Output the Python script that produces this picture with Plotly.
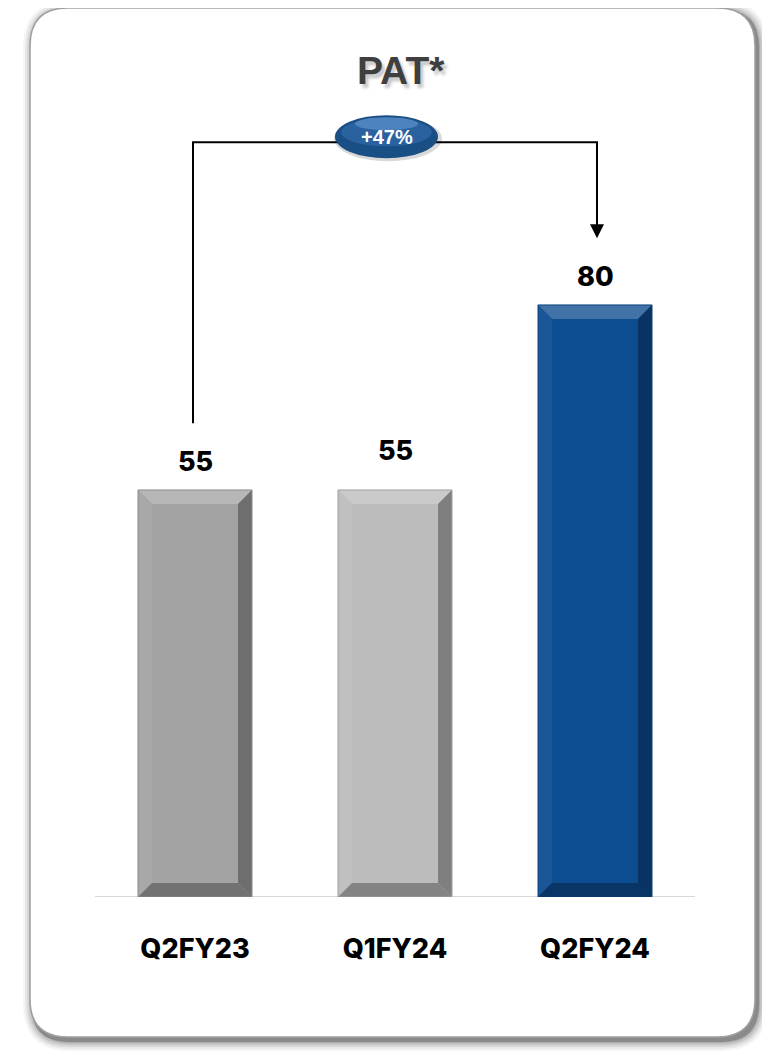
import plotly.graph_objects as go

# ---------------- data ----------------
categories = ["Q2FY23", "Q1FY24", "Q2FY24"]
values = [55, 55, 80]
bar_colors = ["#a3a3a3", "#bcbcbc", "#0c4c91"]
label_shift = [0, 11, 0]
title_text = "PAT*"
growth_text = "+47%"

# ---------------- layout geometry ----------------
OFF = 8                      # browser body margin
W, H = 770 - OFF, 1051 - OFF
# plot area in page pixels
PL, PR, PT, PB = 95, 695, 60, 897
ML, MR, MT, MB = PL - OFF, W - (PR - OFF), PT - OFF, H - (PB - OFF)
PW, PH = PR - PL, PB - PT
YMAX = 113.1
BAR_W = 0.57

def px_x(px):
    return (px - PL) / PW

def px_y(py):
    return (PB - py) / PH

def shade(hex_color, f):
    h = hex_color.lstrip("#")
    r, g, b = int(h[0:2], 16), int(h[2:4], 16), int(h[4:6], 16)
    if f >= 0:
        r, g, b = [int(c + (255 - c) * f) for c in (r, g, b)]
    else:
        r, g, b = [int(c * (1 + f)) for c in (r, g, b)]
    return f"rgb({r},{g},{b})"

def rounded_path(x0, y0, x1, y1, r):
    X = lambda v: f"{px_x(v):.5f}"
    Y = lambda v: f"{px_y(v):.5f}"
    return (f"M {X(x0 + r)} {Y(y0)} L {X(x1 - r)} {Y(y0)} Q {X(x1)} {Y(y0)} {X(x1)} {Y(y0 + r)} "
            f"L {X(x1)} {Y(y1 - r)} Q {X(x1)} {Y(y1)} {X(x1 - r)} {Y(y1)} "
            f"L {X(x0 + r)} {Y(y1)} Q {X(x0)} {Y(y1)} {X(x0)} {Y(y1 - r)} "
            f"L {X(x0)} {Y(y0 + r)} Q {X(x0)} {Y(y0)} {X(x0 + r)} {Y(y0)} Z")

xs = list(range(len(categories)))

fig = go.Figure()
fig.add_trace(go.Bar(
    x=xs, y=values, width=BAR_W,
    marker=dict(color=bar_colors, line=dict(width=0)),
    hoverinfo="skip", showlegend=False,
))

shapes = []
# card shadow layers
for i, op in enumerate([0.04, 0.05, 0.07, 0.09, 0.12]):
    g = 9 - i * 2
    shapes.append(dict(type="path", xref="paper", yref="paper", layer="below",
                       path=rounded_path(30 - g + 2, 8 - g + 2, 757 + g + 2, 1039 + g + 3, 38 + g),
                       fillcolor=f"rgba(0,0,0,{op})", line=dict(width=0)))
shapes.append(dict(type="path", xref="paper", yref="paper", layer="below",
                   path=rounded_path(31, 9, 759, 1042, 38),
                   fillcolor="#8a8a8a", line=dict(width=0)))
shapes.append(dict(type="path", xref="paper", yref="paper", layer="below",
                   path=rounded_path(30, 8, 755, 1037, 38),
                   fillcolor="#ffffff", line=dict(color="#a0a0a0", width=1.5)))

# axis baseline
shapes.append(dict(type="line", xref="paper", yref="y", x0=0, x1=1, y0=0, y1=0,
                   line=dict(color="#d9d9d9", width=2), layer="above"))

# bar bevels
bx = 14 / (PW / 3)
by = 14 / (PH / YMAX)
for x, v, c in zip(xs, values, bar_colors):
    L, R = x - BAR_W / 2, x + BAR_W / 2
    polys = [
        ([(L, v), (R, v), (R - bx, v - by), (L + bx, v - by)], shade(c, 0.22)),
        ([(L, v), (L + bx, v - by), (L + bx, by), (L, 0)], shade(c, 0.06)),
        ([(R, v), (R - bx, v - by), (R - bx, by), (R, 0)], shade(c, -0.32)),
        ([(L, 0), (L + bx, by), (R - bx, by), (R, 0)], shade(c, -0.3)),
    ]
    for pts, col in polys:
        p = "M " + " L ".join(f"{a:.4f} {b:.4f}" for a, b in pts) + " Z"
        shapes.append(dict(type="path", xref="x", yref="y", path=p,
                           fillcolor=col, line=dict(width=0), layer="above"))
    shapes.append(dict(type="rect", xref="x", yref="y", x0=L, x1=R, y0=0, y1=v,
                       line=dict(color=shade(c, -0.15), width=1), layer="above"))

# growth bracket
gap = 9
top_level = max(values) + 22
shapes.append(dict(type="path", xref="x", yref="y",
                   path=f"M -0.01 {values[0] + gap} L -0.01 {top_level} L 2.01 {top_level} L 2.01 {values[2] + gap + 4}",
                   line=dict(color="#000000", width=2), layer="above"))

# ellipse badge
ex, ey = 1, top_level + 0.8
for (x0, x1, y0, y1, col) in [(-61, 47, -25, 20, "rgba(0,0,0,0.15)"),
                              (-60, 43, -22, 21, "#1a4f86"),
                              (-54, 37, -10, 18, "#2a62a0"),
                              (-40, 23, 6, 19, "#4f83bd")]:
    shapes.append(dict(type="circle", xref="x", yref="y", xsizemode="pixel", ysizemode="pixel",
                       xanchor=ex, yanchor=ey, x0=x0, x1=x1, y0=y0, y1=y1,
                       fillcolor=col, line=dict(width=0), layer="above"))

annotations = []
# arrow
annotations.append(dict(x=2.01, y=values[2] + gap, ax=2.01, ay=values[2] + gap + 5, xref="x", yref="y",
                        axref="x", ayref="y", text="", showarrow=True, arrowhead=2,
                        arrowsize=1.4, arrowwidth=2, arrowcolor="#000000"))
annotations.append(dict(x=ex, y=ey, xref="x", yref="y", xshift=-8, yshift=-1, text=growth_text,
                        xanchor="center", yanchor="middle", showarrow=False,
                        font=dict(family="Liberation Sans", size=20, color="#ffffff", weight="bold")))
# title with shadow
annotations.append(dict(x=px_x(401), y=px_y(70), xref="paper", yref="paper", text=title_text,
                        xanchor="center", yanchor="middle", showarrow=False,
                        font=dict(family="Liberation Sans", size=39, color="#3f3f3f", weight="bold",
                                  shadow="3px 4px 3px rgba(0,0,0,0.22)")))
# value labels
for x, v, s in zip(xs, values, label_shift):
    annotations.append(dict(x=x, y=v, xref="x", yref="y", text=str(v), showarrow=False,
                            xanchor="center", yanchor="bottom", yshift=10 + s,
                            font=dict(family="Inter", size=27, color="#000000", weight=800)))

fig.update_layout(
    width=W, height=H,
    margin=dict(l=ML, r=MR, t=MT, b=MB),
    paper_bgcolor="#ffffff", plot_bgcolor="rgba(0,0,0,0)",
    shapes=shapes, annotations=annotations,
    bargap=0,
    xaxis=dict(range=[-0.5, 2.5], tickvals=xs, ticktext=categories, showgrid=False,
               zeroline=False, showline=False, ticks="", ticklabelstandoff=33,
               tickfont=dict(family="Inter", size=27, color="#000000", weight=800), fixedrange=True),
    yaxis=dict(range=[0, YMAX], visible=False, showgrid=False, zeroline=False, fixedrange=True),
)

fig.write_html("out.html")
